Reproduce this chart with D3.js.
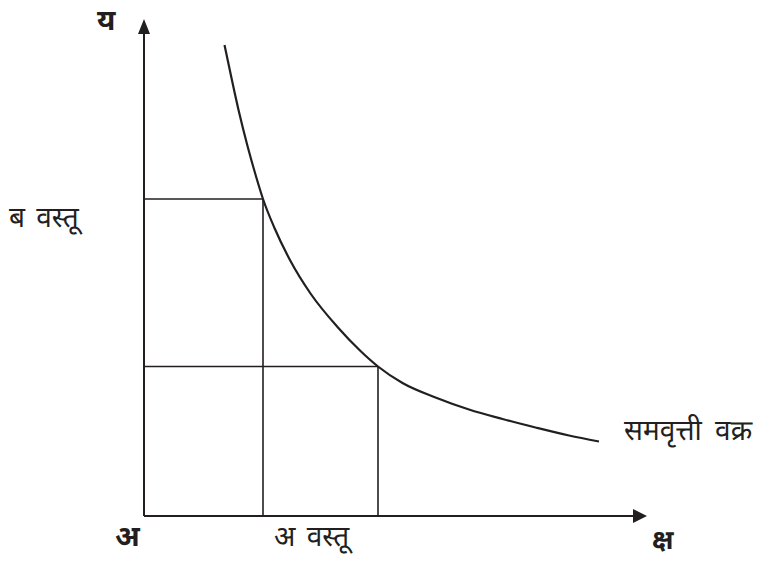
<!DOCTYPE html>
<html><head><meta charset="utf-8">
<script src="https://cdn.jsdelivr.net/npm/d3@7/dist/d3.min.js"></script>
<style>body{margin:0;background:#fff}svg{display:block}text{font-family:"Noto Sans Devanagari","Lohit Devanagari","Noto Sans",sans-serif;fill:#231f20}</style>
</head><body>
<script>
// Indifference curve points (commodity A on x, commodity B on y)
const curveX = [16.1,17.5,19.0,20.7,22.5,23.8,26.1,29.3,33.3,38.7,43.3,46.8,51.7,58.3,65.0,71.7,78.3,85.0,91.0];
const curveY = [94.2,87.6,80.8,74.0,67.6,63.4,57.6,51.0,44.5,37.8,33.0,29.9,26.6,23.7,21.3,19.4,17.7,16.1,14.9];
// Combination points marked with guide lines
const comboX = [23.8, 46.8];
const comboY = [63.4, 29.9];
const labels = {y:"य", x:"क्ष", origin:"अ", goodA:"अ वस्तू", goodB:"ब वस्तू", curve:"समवृत्ती वक्र"};

const W=757,H=563;
const svg=d3.select("body").append("svg").attr("width",W).attr("height",H);
const x=d3.scaleLinear().domain([0,100]).range([144,644]);
const y=d3.scaleLinear().domain([0,100]).range([516,16]);
const ink="#231f20";

// guide lines
const g=svg.append("g").attr("stroke",ink).attr("stroke-width",1.6).attr("fill","none");
comboX.forEach((cx,i)=>{
  g.append("line").attr("x1",x(0)).attr("x2",x(cx)).attr("y1",y(comboY[i])).attr("y2",y(comboY[i]));
  g.append("line").attr("x1",x(cx)).attr("x2",x(cx)).attr("y1",y(comboY[i])).attr("y2",y(0));
});

// axes
svg.append("line").attr("x1",x(0)).attr("x2",x(0)).attr("y1",y(0)).attr("y2",32).attr("stroke",ink).attr("stroke-width",2);
svg.append("line").attr("x1",x(0)).attr("x2",634).attr("y1",y(0)).attr("y2",y(0)).attr("stroke",ink).attr("stroke-width",2.2);
svg.append("path").attr("d",`M${x(0)},19 L${x(0)-6},34 L${x(0)+6},34 Z`).attr("fill",ink);
svg.append("path").attr("d",`M647,${y(0)} L633,${y(0)-7} L633,${y(0)+7} Z`).attr("fill",ink);

// curve
const pts=curveX.map((v,i)=>[v,curveY[i]]);
svg.append("path").datum(pts)
  .attr("d",d3.line().x(d=>x(d[0])).y(d=>y(d[1])).curve(d3.curveMonotoneX))
  .attr("fill","none").attr("stroke",ink).attr("stroke-width",2.2);

// labels
svg.append("text").attr("x",97).attr("y",30).attr("font-size",29).attr("font-weight","bold").text(labels.y);
svg.append("text").attr("x",9).attr("y",227).attr("font-size",28).attr("word-spacing",4).text(labels.goodB);
svg.append("text").attr("x",115).attr("y",546).attr("font-size",29).attr("font-weight","bold").text(labels.origin);
svg.append("text").attr("x",274).attr("y",546).attr("font-size",28).attr("word-spacing",4).text(labels.goodA);
svg.append("text").attr("x",624).attr("y",440).attr("font-size",28).attr("word-spacing",6).text(labels.curve);
svg.append("text").attr("x",652).attr("y",549).attr("font-size",27).attr("font-weight","bold").text(labels.x);
</script>
</body></html>
